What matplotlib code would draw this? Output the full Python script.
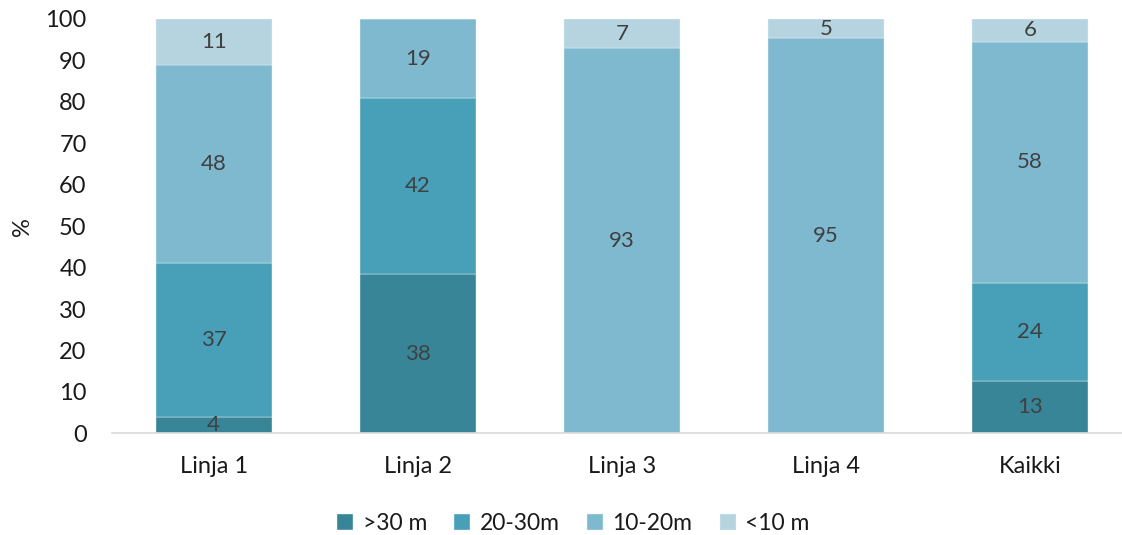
import matplotlib
matplotlib.use("Agg")
import matplotlib.pyplot as plt
import numpy as np

categories = ["Linja 1", "Linja 2", "Linja 3", "Linja 4", "Kaikki"]
series_names = [">30 m", "20-30m", "10-20m", "<10 m"]
over30 = [3.9, 38.5, 0, 0, 12.6]
m20_30 = [37.1, 42.4, 0, 0, 23.8]
m10_20 = [47.9, 19.1, 92.9, 95.4, 58.1]
under10 = [11.1, 0, 7.1, 4.6, 5.5]
yticks = [0, 10, 20, 30, 40, 50, 60, 70, 80, 90, 100]

colors = ["#398598", "#48A0B8", "#7EB9CF", "#B5D4E0"]

plt.rcParams['font.family'] = ['Lato', 'DejaVu Sans']

fig = plt.figure(figsize=(11.22, 5.35), dpi=100)
ax = fig.add_axes([0.0995, 0.19, 0.9005, 0.7745])

x = np.arange(len(categories))
bottom = np.zeros(len(categories))
handles = []
for vals, name, col in zip([over30, m20_30, m10_20, under10], series_names, colors):
    vals = np.array(vals, dtype=float)
    bars = ax.bar(x, vals, 0.57, bottom=bottom, color=col, label=name,
                  edgecolor="#E8F2F6", linewidth=0.3)
    handles.append(bars)
    for xi, v, b in zip(x, vals, bottom):
        if v > 0:
            ax.text(xi, b + v / 2, f"{v:.0f}", ha="center", va="center",
                    fontsize=16, color="#404040")
    bottom += vals

ax.set_ylim(0, 100)
ax.set_xlim(-0.5, 4.45)
ax.set_yticks(yticks)
ax.set_xticks(x)
ax.set_xticklabels(categories)
ax.tick_params(axis="both", length=0, labelsize=17, labelcolor="#1a1a1a")
ax.tick_params(axis="y", pad=18)
ax.tick_params(axis="x", pad=16)
for s in ["top", "right", "left"]:
    ax.spines[s].set_visible(False)
ax.spines["bottom"].set_color("#D9D9D9")
ax.spines["bottom"].set_linewidth(1.2)
ax.set_ylabel("%", fontsize=17, color="#1a1a1a")
ax.yaxis.set_label_coords(-0.078, 0.5)

fig.legend(handles=handles, labels=series_names, loc="center",
           bbox_to_anchor=(0.511, 0.022), ncol=4, frameon=False, fontsize=16.5,
           handlelength=0.7, handleheight=0.7, handletextpad=0.4, columnspacing=1.2,
           labelcolor="#1a1a1a")

fig.savefig("out.png", dpi=100)
